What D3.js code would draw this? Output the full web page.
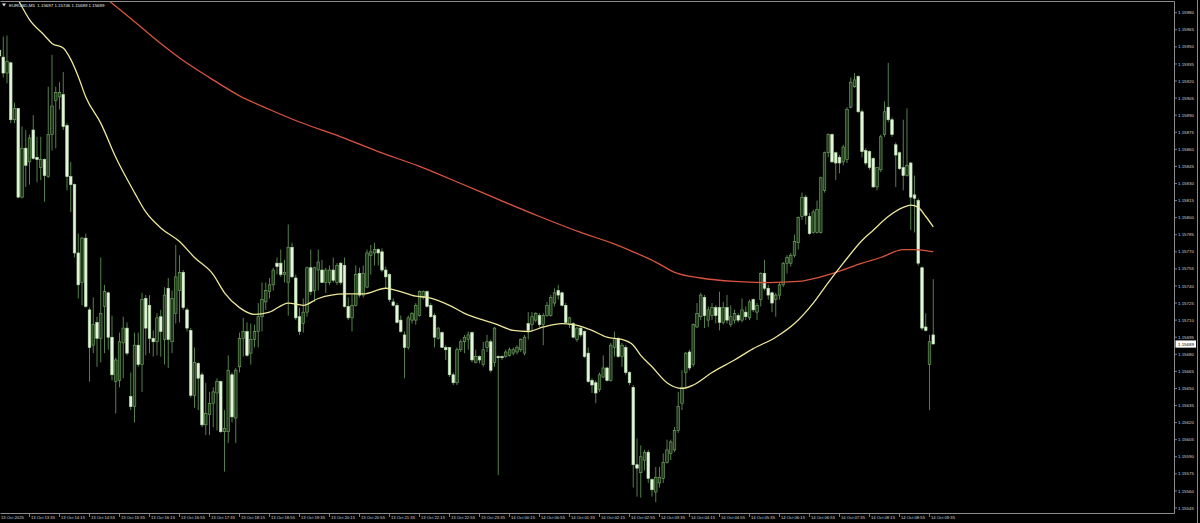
<!DOCTYPE html>
<html>
<head>
<meta charset="utf-8">
<script src="https://cdn.jsdelivr.net/npm/d3@7"></script>
<style>
  html, body { margin: 0; padding: 0; background: #000; overflow: hidden; }
</style>
</head>
<body>
<div id="chart"></div>
<script>
const symbol = "EURUSD,M5";

// 5-minute bars, 13 Oct 12:55 .. 14 Oct 09:40
const opens = [
1.15947,1.15941,1.15927,1.15936,1.15886,1.15896,1.15818,1.15861,1.15849,1.15877,
1.15853,1.15844,1.15851,1.15836,1.15873,1.15903,1.15906,1.15908,1.15881,1.15836,
1.15829,1.15769,1.15743,1.15782,1.15719,1.15688,1.15708,1.15694,1.15722,1.15734,
1.15695,1.15656,1.15657,1.15690,1.15703,1.15643,1.15634,1.15688,1.15671,1.15729,
1.15723,1.15694,1.15691,1.15713,1.15693,1.15738,1.15691,1.15716,1.15736,1.15752,
1.15719,1.15701,1.15644,1.15672,1.15662,1.15618,1.15627,1.15637,1.15646,1.15656,
1.15612,1.15612,1.15662,1.15624,1.15669,1.15694,1.15700,1.15681,1.15693,1.15700,
1.15713,1.15726,1.15735,1.15741,1.15760,1.15760,1.15750,1.15743,1.15774,1.15747,
1.15713,1.15707,1.15717,1.15756,1.15736,1.15754,1.15754,1.15743,1.15743,1.15754,
1.15743,1.15760,1.15758,1.15722,1.15712,1.15723,1.15751,1.15732,1.15739,1.15767,
1.15769,1.15772,1.15770,1.15754,1.15750,1.15726,1.15723,1.15710,1.15697,1.15686,
1.15710,1.15710,1.15714,1.15730,1.15735,1.15723,1.15714,1.15694,1.15699,1.15686,
1.15686,1.15662,1.15655,1.15684,1.15691,1.15693,1.15699,1.15673,1.15678,1.15671,
1.15686,1.15691,1.15673,1.15678,1.15678,1.15678,1.15679,1.15681,1.15682,1.15684,
1.15681,1.15707,1.15706,1.15710,1.15714,1.15706,1.15714,1.15714,1.15725,1.15736,
1.15734,1.15723,1.15706,1.15707,1.15693,1.15703,1.15700,1.15681,1.15657,1.15655,
1.15649,1.15660,1.15668,1.15657,1.15686,1.15694,1.15678,1.15686,1.15664,1.15651,
1.15583,1.15576,1.15587,1.15594,1.15570,1.15559,1.15567,1.15571,1.15585,1.15593,
1.15596,1.15613,1.15637,1.15664,1.15682,1.15671,1.15704,1.15713,1.15730,1.15710,
1.15714,1.15721,1.15721,1.15708,1.15721,1.15706,1.15710,1.15714,1.15710,1.15717,
1.15712,1.15728,1.15717,1.15728,1.15751,1.15738,1.15734,1.15728,1.15732,1.15741,
1.15760,1.15760,1.15767,1.15778,1.15801,1.15818,1.15801,1.15787,1.15787,1.15787,
1.15824,1.15857,1.15873,1.15857,1.15853,1.15849,1.15851,1.15897,1.15915,1.15924,
1.15893,1.15859,1.15858,1.15852,1.15827,1.15842,1.15873,1.15897,1.15886,1.15864,
1.15857,1.15844,1.15837,1.15848,1.15820,1.15815,1.15756,1.15704,1.15671,1.15697
];
const highs = [
1.15952,1.15959,1.15960,1.15937,1.15901,1.15896,1.15880,1.15877,1.15873,1.15890,
1.15871,1.15871,1.15852,1.15915,1.15943,1.15915,1.15919,1.15928,1.15883,1.15849,
1.15830,1.15786,1.15783,1.15786,1.15721,1.15730,1.15713,1.15765,1.15741,1.15735,
1.15714,1.15677,1.15699,1.15713,1.15708,1.15664,1.15699,1.15699,1.15734,1.15732,
1.15732,1.15701,1.15716,1.15719,1.15739,1.15747,1.15736,1.15776,1.15767,1.15754,
1.15721,1.15703,1.15686,1.15673,1.15664,1.15655,1.15647,1.15651,1.15659,1.15657,
1.15631,1.15679,1.15664,1.15668,1.15699,1.15712,1.15708,1.15707,1.15706,1.15725,
1.15743,1.15743,1.15747,1.15756,1.15765,1.15772,1.15763,1.15794,1.15778,1.15750,
1.15721,1.15729,1.15757,1.15772,1.15757,1.15772,1.15763,1.15756,1.15758,1.15765,
1.15760,1.15761,1.15765,1.15730,1.15732,1.15758,1.15756,1.15758,1.15772,1.15776,
1.15778,1.15773,1.15773,1.15757,1.15751,1.15729,1.15725,1.15714,1.15700,1.15714,
1.15717,1.15725,1.15736,1.15736,1.15736,1.15725,1.15716,1.15704,1.15700,1.15688,
1.15686,1.15664,1.15686,1.15693,1.15697,1.15700,1.15700,1.15684,1.15679,1.15691,
1.15697,1.15693,1.15704,1.15679,1.15679,1.15684,1.15686,1.15686,1.15688,1.15694,
1.15697,1.15717,1.15717,1.15717,1.15716,1.15716,1.15726,1.15732,1.15738,1.15741,
1.15735,1.15725,1.15713,1.15708,1.15704,1.15704,1.15701,1.15686,1.15659,1.15657,
1.15664,1.15679,1.15669,1.15690,1.15700,1.15695,1.15690,1.15688,1.15665,1.15653,
1.15606,1.15600,1.15596,1.15596,1.15571,1.15581,1.15581,1.15593,1.15605,1.15605,
1.15616,1.15647,1.15666,1.15682,1.15684,1.15707,1.15725,1.15734,1.15732,1.15722,
1.15725,1.15723,1.15735,1.15726,1.15732,1.15723,1.15719,1.15716,1.15729,1.15722,
1.15728,1.15729,1.15725,1.15752,1.15763,1.15741,1.15735,1.15734,1.15743,1.15761,
1.15767,1.15769,1.15785,1.15801,1.15822,1.15820,1.15804,1.15807,1.15815,1.15836,
1.15858,1.15874,1.15874,1.15858,1.15855,1.15864,1.15897,1.15923,1.15927,1.15925,
1.15895,1.15861,1.15859,1.15853,1.15844,1.15873,1.15902,1.15936,1.15888,1.15866,
1.15858,1.15886,1.15896,1.15849,1.15837,1.15817,1.15757,1.15716,1.15697,1.15746
];
const lows = [
1.15939,1.15923,1.15918,1.15883,1.15883,1.15817,1.15817,1.15827,1.15829,1.15851,
1.15831,1.15833,1.15814,1.15835,1.15859,1.15861,1.15895,1.15877,1.15824,1.15805,
1.15765,1.15729,1.15723,1.15721,1.15656,1.15681,1.15669,1.15673,1.15681,1.15684,
1.15657,1.15628,1.15651,1.15659,1.15679,1.15631,1.15620,1.15669,1.15647,1.15679,
1.15681,1.15678,1.15679,1.15678,1.15671,1.15668,1.15681,1.15707,1.15708,1.15719,
1.15700,1.15642,1.15633,1.15631,1.15616,1.15609,1.15609,1.15616,1.15613,1.15611,
1.15577,1.15602,1.15620,1.15602,1.15664,1.15678,1.15678,1.15671,1.15686,1.15686,
1.15700,1.15719,1.15729,1.15736,1.15750,1.15748,1.15743,1.15714,1.15747,1.15710,
1.15697,1.15699,1.15713,1.15732,1.15726,1.15736,1.15743,1.15734,1.15741,1.15743,
1.15741,1.15741,1.15721,1.15710,1.15700,1.15722,1.15730,1.15730,1.15738,1.15750,
1.15758,1.15758,1.15752,1.15738,1.15726,1.15722,1.15707,1.15699,1.15659,1.15684,
1.15707,1.15706,1.15713,1.15728,1.15721,1.15712,1.15686,1.15693,1.15686,1.15675,
1.15660,1.15653,1.15653,1.15682,1.15681,1.15684,1.15673,1.15672,1.15672,1.15669,
1.15682,1.15664,1.15669,1.15574,1.15675,1.15677,1.15678,1.15679,1.15680,1.15682,
1.15679,1.15693,1.15701,1.15708,1.15704,1.15688,1.15713,1.15713,1.15722,1.15728,
1.15722,1.15707,1.15703,1.15694,1.15691,1.15695,1.15677,1.15655,1.15646,1.15637,
1.15647,1.15659,1.15656,1.15656,1.15678,1.15677,1.15669,1.15662,1.15653,1.15563,
1.15555,1.15554,1.15578,1.15567,1.15555,1.15550,1.15563,1.15567,1.15584,1.15587,
1.15594,1.15611,1.15631,1.15650,1.15666,1.15669,1.15703,1.15710,1.15703,1.15704,
1.15710,1.15707,1.15701,1.15706,1.15707,1.15704,1.15707,1.15708,1.15708,1.15710,
1.15710,1.15717,1.15710,1.15722,1.15736,1.15728,1.15717,1.15713,1.15728,1.15739,
1.15751,1.15757,1.15765,1.15772,1.15798,1.15794,1.15785,1.15786,1.15786,1.15786,
1.15822,1.15853,1.15848,1.15833,1.15839,1.15846,1.15848,1.15896,1.15914,1.15892,
1.15853,1.15846,1.15842,1.15826,1.15824,1.15840,1.15871,1.15884,1.15871,1.15827,
1.15842,1.15824,1.15836,1.15789,1.15787,1.15758,1.15701,1.15700,1.15631,1.15689
];
const closes = [
1.15942,1.15927,1.15937,1.15886,1.15896,1.15818,1.15861,1.15846,1.15870,1.15852,
1.15851,1.15851,1.15837,1.15873,1.15898,1.15910,1.15910,1.15880,1.15836,1.15829,
1.15769,1.15741,1.15782,1.15722,1.15686,1.15706,1.15694,1.15716,1.15735,1.15695,
1.15662,1.15675,1.15691,1.15703,1.15681,1.15634,1.15688,1.15671,1.15728,1.15703,
1.15694,1.15691,1.15712,1.15700,1.15732,1.15693,1.15729,1.15748,1.15752,1.15721,
1.15703,1.15644,1.15673,1.15659,1.15618,1.15628,1.15637,1.15647,1.15656,1.15612,
1.15615,1.15666,1.15625,1.15666,1.15694,1.15700,1.15679,1.15693,1.15700,1.15713,
1.15728,1.15736,1.15741,1.15754,1.15757,1.15750,1.15752,1.15774,1.15748,1.15712,
1.15700,1.15717,1.15756,1.15735,1.15756,1.15761,1.15743,1.15754,1.15754,1.15745,
1.15758,1.15743,1.15722,1.15712,1.15723,1.15750,1.15732,1.15751,1.15769,1.15770,
1.15772,1.15769,1.15754,1.15748,1.15728,1.15723,1.15708,1.15700,1.15686,1.15712,
1.15716,1.15723,1.15735,1.15735,1.15722,1.15713,1.15695,1.15703,1.15686,1.15684,
1.15662,1.15655,1.15684,1.15691,1.15695,1.15697,1.15675,1.15678,1.15675,1.15684,
1.15691,1.15666,1.15703,1.15677,1.15677,1.15682,1.15684,1.15684,1.15686,1.15693,
1.15695,1.15701,1.15713,1.15716,1.15706,1.15714,1.15723,1.15730,1.15734,1.15732,
1.15723,1.15708,1.15712,1.15695,1.15703,1.15697,1.15678,1.15656,1.15653,1.15646,
1.15662,1.15668,1.15657,1.15688,1.15694,1.15678,1.15688,1.15664,1.15655,1.15583,
1.15580,1.15590,1.15594,1.15571,1.15561,1.15572,1.15572,1.15585,1.15596,1.15603,
1.15613,1.15634,1.15651,1.15681,1.15668,1.15706,1.15716,1.15732,1.15714,1.15719,
1.15721,1.15714,1.15708,1.15721,1.15710,1.15713,1.15716,1.15710,1.15719,1.15713,
1.15726,1.15719,1.15723,1.15751,1.15738,1.15732,1.15725,1.15732,1.15741,1.15760,
1.15765,1.15767,1.15779,1.15800,1.15818,1.15802,1.15786,1.15805,1.15807,1.15835,
1.15857,1.15873,1.15849,1.15848,1.15848,1.15862,1.15895,1.15919,1.15921,1.15893,
1.15858,1.15848,1.15844,1.15827,1.15844,1.15871,1.15893,1.15886,1.15873,1.15855,
1.15843,1.15837,1.15846,1.15818,1.15817,1.15760,1.15703,1.15701,1.15691,1.15689
];

// moving averages (bar index, price)
const fastMaBars = [0,5,8,12,14,17,19,21,23,27,31,36,39,43,48,52,57,60,64,68,
  72,77,81,85,92,97,103,106,111,114,120,124,128,132,137,141,145,150,153,158,
  162,166,169,171,174,178,182,185,190,196,201,207,212,217,221,225,230,233,237,241,
  243,245,247,249];
const fastMaVals = [1.16018,1.15991,1.15974,1.15960,1.15953,1.15949,1.15939,1.15924,1.15906,1.15883,
  1.15853,1.15822,1.15805,1.15791,1.15779,1.15765,1.15750,1.15734,1.15721,1.15715,
  1.15717,1.15725,1.15723,1.15729,1.15733,1.15733,1.15738,1.15736,1.15731,1.15730,
  1.15723,1.15716,1.15711,1.15707,1.15701,1.15700,1.15704,1.15707,1.15706,1.15701,
  1.15695,1.15693,1.15688,1.15679,1.15669,1.15655,1.15650,1.15653,1.15664,1.15675,
  1.15685,1.15695,1.15707,1.15725,1.15743,1.15760,1.15780,1.15789,1.15801,1.15809,
  1.15811,1.15809,1.15801,1.15792];
const slowMaBars = [0,29,35,43,49,56,64,72,80,91,101,112,123,133,144,155,163,169,175,180,
  187,196,205,213,219,224,230,235,241,244,249];
const slowMaVals = [1.16075,1.15991,1.15975,1.15953,1.15938,1.15923,1.15907,1.15895,1.15884,1.15871,
  1.15858,1.15845,1.15830,1.15816,1.15801,1.15787,1.15778,1.15770,1.15761,1.15752,
  1.15747,1.15744,1.15743,1.15744,1.15748,1.15753,1.15760,1.15765,1.15772,1.15772,
  1.15770];

const priceTicks = [1.15980,1.15965,1.15950,1.15935,1.15920,1.15905,1.15890,1.15875,1.15860,1.15845,
  1.15830,1.15815,1.15800,1.15785,1.15770,1.15755,1.15740,1.15725,1.15710,1.15695,
  1.15680,1.15665,1.15650,1.15635,1.15620,1.15605,1.15590,1.15575,1.15560,1.15545];

const timeLabels = ["13 Oct 2025","13 Oct 13:35","13 Oct 14:15","13 Oct 14:55","13 Oct 15:35",
  "13 Oct 16:15","13 Oct 16:55","13 Oct 17:35","13 Oct 18:15","13 Oct 18:55","13 Oct 19:35",
  "13 Oct 20:15","13 Oct 20:55","13 Oct 21:35","13 Oct 22:15","13 Oct 22:55","13 Oct 23:35",
  "14 Oct 00:15","14 Oct 00:55","14 Oct 01:35","14 Oct 02:15","14 Oct 02:55","14 Oct 03:35",
  "14 Oct 04:15","14 Oct 04:55","14 Oct 05:35","14 Oct 06:15","14 Oct 06:55","14 Oct 07:35",
  "14 Oct 08:15","14 Oct 08:55","14 Oct 09:35"];
const barsPerLabel = 8;

const W = 1200, H = 523;
const plotRight = 1174.5, plotTop = 1.5, plotBottom = 513.5;

const bars = closes.map((c, i) => ({ i, o: opens[i], h: highs[i], l: lows[i], c }));

const x = d3.scaleLinear().domain([0, 313]).range([-0.5, 1173.25]);
const y = d3.scaleLinear().domain([1.15545, 1.15980]).range([508, 12.7]);

const svg = d3.select("#chart").append("svg")
  .attr("width", W).attr("height", H)
  .style("background", "#000")
  .attr("font-family", "'Liberation Sans', Arial, sans-serif");

svg.append("defs").append("clipPath").attr("id", "plot")
  .append("rect").attr("x", 0).attr("y", plotTop).attr("width", plotRight).attr("height", plotBottom - plotTop);

const plot = svg.append("g").attr("clip-path", "url(#plot)");

// wicks
plot.append("g")
  .attr("stroke", "#5f8f53")
  .attr("stroke-width", 0.9)
  .selectAll("line")
  .data(bars)
  .join("line")
  .attr("x1", d => x(d.i)).attr("x2", d => x(d.i))
  .attr("y1", d => y(d.h)).attr("y2", d => y(d.l));

// bodies
const bodyW = 2.6;
plot.append("g")
  .selectAll("rect")
  .data(bars)
  .join("rect")
  .attr("x", d => x(d.i) - bodyW / 2)
  .attr("y", d => y(Math.max(d.o, d.c)))
  .attr("width", bodyW)
  .attr("height", d => Math.max(0.8, Math.abs(y(d.o) - y(d.c))))
  .attr("fill", d => d.c >= d.o ? "#1f3a1b" : "#e3f6da")
  .attr("stroke", d => d.c >= d.o ? "#78a868" : "#b8dcad")
  .attr("stroke-width", 0.6);

// moving averages
const maLine = d3.line().x(d => x(d[0])).y(d => y(d[1])).curve(d3.curveMonotoneX);
plot.append("path")
  .datum(slowMaBars.map((b, k) => [b, slowMaVals[k]]))
  .attr("fill", "none").attr("stroke", "#d8543f").attr("stroke-width", 1.3)
  .attr("d", maLine);
plot.append("path")
  .datum(fastMaBars.map((b, k) => [b, fastMaVals[k]]))
  .attr("fill", "none").attr("stroke", "#ece79a").attr("stroke-width", 1.3)
  .attr("d", maLine);

// frame
svg.append("path")
  .attr("d", `M0.5,${plotTop}H${plotRight}V${plotBottom}H0.5`)
  .attr("fill", "none").attr("stroke", "#8c8c8c").attr("stroke-width", 1);
svg.append("line")
  .attr("x1", 1197.5).attr("x2", 1197.5).attr("y1", 0).attr("y2", H)
  .attr("stroke", "#8a8a8a").attr("stroke-width", 1);

// price axis
const fmt = d3.format(".5f");
const pAxis = svg.append("g").attr("font-size", 4.4).attr("fill", "#d6d6d6");
pAxis.selectAll("line").data(priceTicks).join("line")
  .attr("x1", plotRight).attr("x2", plotRight + 2.5)
  .attr("y1", d => y(d)).attr("y2", d => y(d))
  .attr("stroke", "#9a9a9a").attr("stroke-width", 0.8);
pAxis.selectAll("text").data(priceTicks).join("text")
  .attr("x", 1178).attr("y", d => y(d) + 1.6)
  .text(d => fmt(d));

// current price tag
const last = bars[bars.length - 1];
svg.append("rect")
  .attr("x", 1175.5).attr("y", y(last.c) - 3.6).attr("width", 20.5).attr("height", 7.2)
  .attr("fill", "#ffffff");
svg.append("text")
  .attr("x", 1178).attr("y", y(last.c) + 1.6)
  .attr("font-size", 4.4).attr("fill", "#000")
  .text(fmt(last.c));

// time axis
const tAxis = svg.append("g").attr("font-size", 4.2).attr("fill", "#d6d6d6");
tAxis.selectAll("line").data(timeLabels).join("line")
  .attr("x1", (d, k) => x(k * barsPerLabel)).attr("x2", (d, k) => x(k * barsPerLabel))
  .attr("y1", plotBottom).attr("y2", plotBottom + 3.5)
  .attr("stroke", "#9a9a9a").attr("stroke-width", 0.8);
tAxis.selectAll("text").data(timeLabels).join("text")
  .attr("x", (d, k) => x(k * barsPerLabel) + 1.5)
  .attr("y", 519.4)
  .text(d => d);

// header
svg.append("path")
  .attr("d", "M2,3.5 L6,3.5 L4,6.5 Z")
  .attr("fill", "#e0e0e0");
svg.append("text")
  .attr("x", 9).attr("y", 6.6)
  .attr("font-size", 4.4).attr("fill", "#e6e6e6")
  .attr("xml:space", "preserve")
  .text(`${symbol}  ${fmt(last.o)} ${fmt(last.h)} ${fmt(last.l)} ${fmt(last.c)}`);
</script>
</body>
</html>
